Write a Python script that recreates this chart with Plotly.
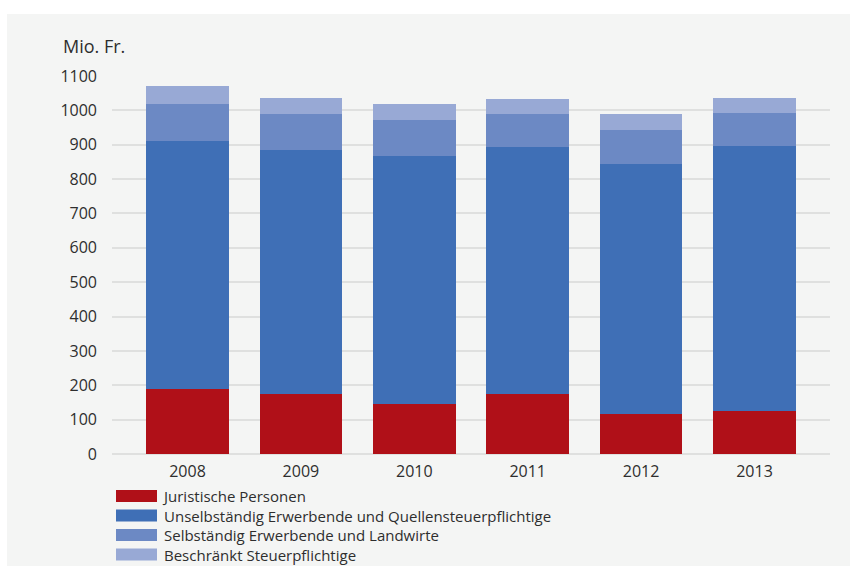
import plotly.graph_objects as go

years = ["2008", "2009", "2010", "2011", "2012", "2013"]
series_names = [
    "Juristische Personen",
    "Unselbständig Erwerbende und Quellensteuerpflichtige",
    "Selbständig Erwerbende und Landwirte",
    "Beschränkt Steuerpflichtige",
]
juristische = [190, 175, 146, 175, 115, 125]
unselbstaendig = [722, 709, 722, 719, 729, 771]
selbstaendig = [107, 105, 104, 96, 100, 95]
beschraenkt = [52, 47, 47, 44, 45, 45]
y_ticks = [0, 100, 200, 300, 400, 500, 600, 700, 800, 900, 1000, 1100]

colors = ["#b01018", "#3f6fb6", "#6c89c4", "#98a9d5"]
values = [juristische, unselbstaendig, selbstaendig, beschraenkt]

W, H = 850, 566
L, R, T, B = 112, 830, 76, 454
font_family = "Open Sans"
text_color = "#2e2e2e"
legend_font = 15
line_step = legend_font * 1.3
legend_first = 496

fig = go.Figure()
for name, vals, col in zip(series_names, values, colors):
    fig.add_trace(go.Bar(
        x=years, y=vals, name=name, marker=dict(color=col, line=dict(width=0)),
        width=0.73, showlegend=False,
    ))

def px_x(p):
    return (p - L) / (R - L)

def px_y(p):
    return (B - p) / (B - T)

shapes = [
    dict(type="rect", xref="paper", yref="paper", x0=px_x(0), x1=px_x(W), y0=px_y(14), y1=px_y(0),
         fillcolor="white", line=dict(width=0), layer="below"),
    dict(type="rect", xref="paper", yref="paper", x0=px_x(0), x1=px_x(7), y0=px_y(H), y1=px_y(0),
         fillcolor="white", line=dict(width=0), layer="below"),
]
for i, col in enumerate(colors):
    ly = legend_first + i * line_step
    shapes.append(dict(type="rect", xref="paper", yref="paper", x0=px_x(116), x1=px_x(157),
                       y0=px_y(ly + 6), y1=px_y(ly - 6), fillcolor=col, line=dict(width=0)))

legend_center = legend_first + 1.5 * line_step
annotations = [
    dict(text="Mio. Fr.", xref="paper", yref="paper", x=px_x(61), y=px_y(46), xanchor="left",
         yanchor="middle", showarrow=False, font=dict(family=font_family, size=18, color=text_color)),
    dict(text="<br>".join(series_names), xref="paper", yref="paper", x=px_x(161), y=px_y(legend_center),
         xanchor="left", yanchor="middle", align="left", showarrow=False, borderpad=0,
         font=dict(family=font_family, size=legend_font, color=text_color)),
]

fig.update_layout(
    barmode="stack",
    width=W, height=H,
    margin=dict(l=L, r=W - R, t=T, b=H - B, pad=0),
    paper_bgcolor="#f4f5f4",
    plot_bgcolor="#f4f5f4",
    font=dict(family=font_family, size=15, color=text_color),
    shapes=shapes,
    annotations=annotations,
    xaxis=dict(range=[-0.666, 5.666], showgrid=False, zeroline=False, showline=False,
               ticks="", ticklabelstandoff=6, tickfont=dict(size=16, color=text_color)),
    yaxis=dict(range=[0, 1100], tickvals=y_ticks, showgrid=True, gridcolor="#dfe0df", gridwidth=1.5,
               zeroline=True, zerolinecolor="#dfe0df", zerolinewidth=1.5, showline=False,
               ticks="", ticklabelstandoff=14, tickfont=dict(size=16, color=text_color)),
)

fig.write_html("out.html")
